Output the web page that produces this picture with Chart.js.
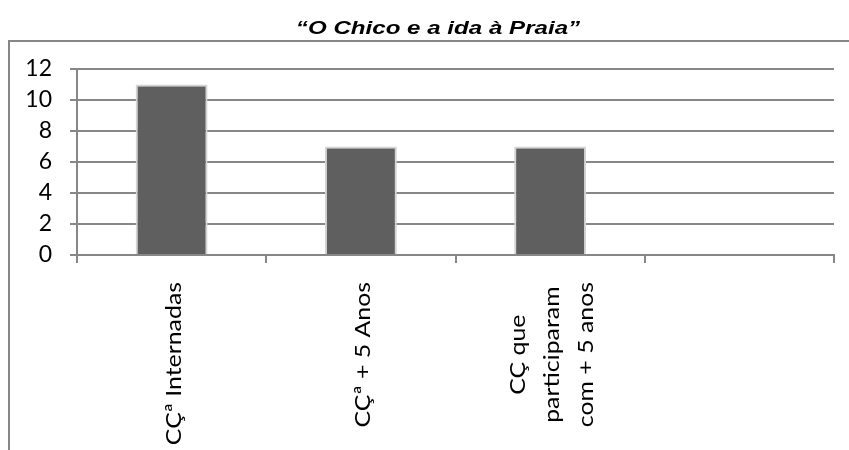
<!DOCTYPE html>
<html>
<head>
<meta charset="utf-8">
<script src="https://cdn.jsdelivr.net/npm/chart.js@4"></script>
<style>
  html, body { margin: 0; padding: 0; background: #fff; }
  #wrap { width: 849px; height: 450px; position: relative; }
</style>
</head>
<body>
<div id="wrap"><canvas id="chart"></canvas></div>
<script>
const chartTitle = "\u201cO Chico e a ida \u00e0 Praia\u201d";
const categories = [
  ["CÇª Internadas"],
  ["CÇª + 5 Anos"],
  ["CÇ que", "participaram", "com + 5 anos"],
  [""]
];
const values = [11, 7, 7, null];
const yTicks = [0, 2, 4, 6, 8, 10, 12];

const axisGray = "#878787";

// frame, title and centred rotated category labels
const decorPlugin = {
  id: "decor",
  beforeDraw(chart) {
    const ctx = chart.ctx;
    ctx.save();
    ctx.strokeStyle = axisGray;
    ctx.lineWidth = 2;
    ctx.beginPath();
    ctx.moveTo(9, 450);
    ctx.lineTo(9, 41);
    ctx.lineTo(849, 41);
    ctx.stroke();

    // the source title is set wide, so stretch it a bit
    ctx.fillStyle = "#000";
    ctx.font = "bold italic 19px 'Liberation Sans', Arial, sans-serif";
    ctx.textAlign = "center";
    ctx.textBaseline = "alphabetic";
    ctx.translate(438, 34);
    ctx.scale(1.27, 1);
    ctx.fillText(chartTitle, 0, 0);
    ctx.restore();
  },
  afterDraw(chart) {
    const ctx = chart.ctx;
    const xs = chart.scales.x;
    const lineH = 34;
    const stretch = 1.13;
    ctx.save();
    ctx.font = "22px Lato, 'Open Sans', sans-serif";
    ctx.fillStyle = "#000";
    ctx.textAlign = "center";
    ctx.textBaseline = "middle";
    categories.forEach((lines, i) => {
      const cx = xs.getPixelForValue(i);
      const maxW = Math.max(...lines.map(l => ctx.measureText(l).width)) * stretch;
      const top = xs.top + 27;
      lines.forEach((line, j) => {
        const off = (j - (lines.length - 1) / 2) * lineH;
        ctx.save();
        ctx.translate(cx + off + 2, top + maxW / 2);
        ctx.rotate(-Math.PI / 2);
        ctx.scale(stretch, 1);
        ctx.fillText(line, 0, 0);
        ctx.restore();
      });
    });
    ctx.restore();
  }
};

new Chart(document.getElementById("chart"), {
  type: "bar",
  data: {
    labels: categories,
    datasets: [{
      data: values,
      backgroundColor: "#5f5f5f",
      borderColor: "#d4d4d4",
      borderWidth: 2,
      barPercentage: 0.38,
      categoryPercentage: 1
    }]
  },
  options: {
    responsive: true,
    maintainAspectRatio: false,
    animation: false,
    events: [],
    layout: { padding: { top: 69, left: 10, right: 15, bottom: 0 } },
    plugins: {
      legend: { display: false },
      title: { display: false },
      tooltip: { enabled: false }
    },
    scales: {
      x: {
        offset: true,
        grid: {
          offset: true,
          drawOnChartArea: false,
          drawTicks: true,
          tickLength: 8,
          color: axisGray,
          lineWidth: 2
        },
        border: { display: true, color: axisGray, width: 2 },
        ticks: { display: false },
        afterFit(scale) { scale.height = 195; }
      },
      y: {
        min: 0,
        max: 12,
        afterBuildTicks(scale) {
          scale.ticks = yTicks.map(v => ({ value: v }));
        },
        grid: {
          color: axisGray,
          lineWidth: 2,
          drawTicks: true,
          tickLength: 7
        },
        border: { display: true, color: axisGray, width: 2 },
        ticks: {
          color: "#000",
          padding: 18,
          font: { family: "Lato", size: 23 }
        },
        afterFit(scale) { scale.width = 67; }
      }
    }
  },
  plugins: [decorPlugin]
});
</script>
</body>
</html>
